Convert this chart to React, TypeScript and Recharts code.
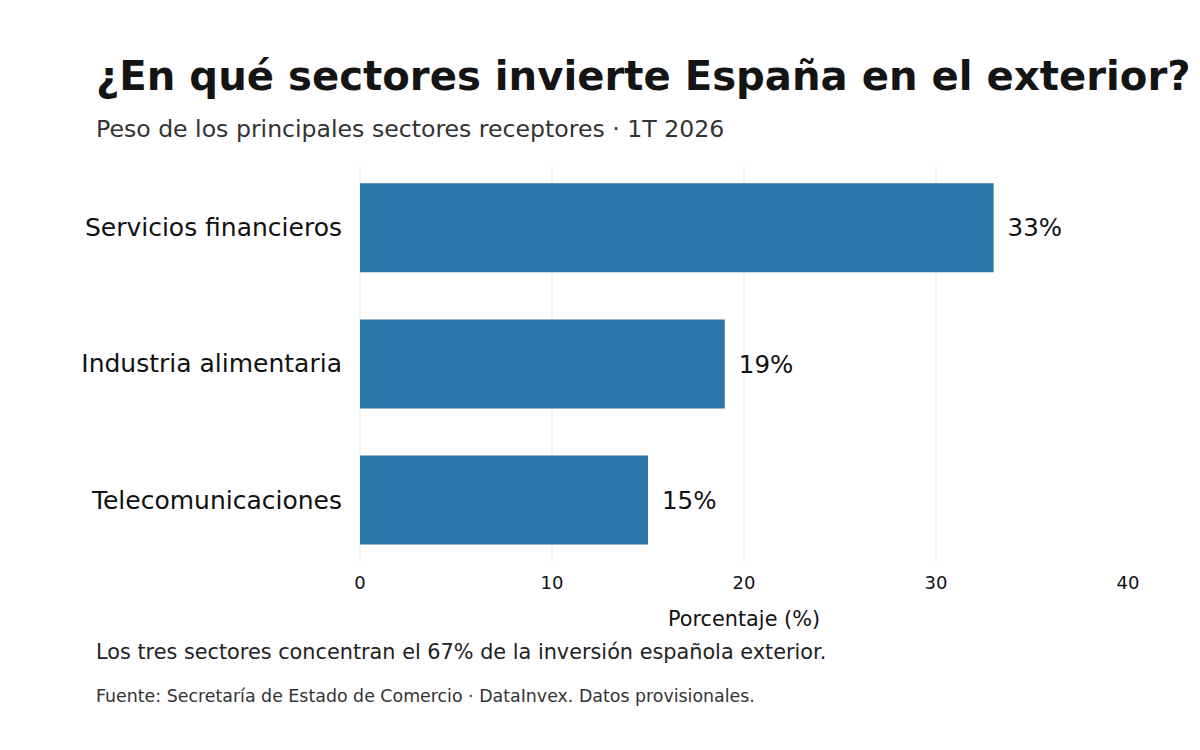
import { BarChart, Bar, XAxis, YAxis, CartesianGrid, LabelList } from 'recharts';

const sectors = ['Servicios financieros', 'Industria alimentaria', 'Telecomunicaciones'];
const shares = [33, 19, 15];
const xTicks = [0, 10, 20, 30, 40];
const gridValues = [0, 10, 20, 30];

const FONT = '"DejaVu Sans", Verdana, sans-serif';
const BAR_COLOR = '#2a75aa';
const X_MAX = 40;

const chartData = sectors.map((s, i) => ({ sector: s, pos: i, value: shares[i] }));

// grid only at 0..30, no line at the right edge
const gridX = (props: any) => {
  const scale = props?.xAxis?.scale;
  if (typeof scale === 'function') return gridValues.map((v) => scale(v));
  const o = props.offset;
  return gridValues.map((v) => o.left + (o.width * v) / X_MAX);
};

export default function App() {
  return (
    <div style={{ position: 'absolute', left: 0, top: 0, width: 1200, height: 750, background: '#fff', fontFamily: FONT }}>
      <BarChart
        width={1200}
        height={750}
        data={chartData}
        layout="vertical"
        margin={{ top: 165, right: 72, bottom: 158, left: 0 }}
      >
        <CartesianGrid horizontal={false} stroke="#ebebeb" strokeWidth={1} verticalCoordinatesGenerator={gridX} />
        <XAxis
          type="number"
          domain={[0, X_MAX]}
          ticks={xTicks}
          axisLine={false}
          tickLine={false}
          tickSize={0}
          tickMargin={14}
          height={30}
          tick={{ fontSize: 18, fill: '#111', fontFamily: FONT }}
        />
        <YAxis
          type="number"
          dataKey="pos"
          domain={[-0.4575, 2.4575]}
          ticks={[0, 1, 2]}
          width={360}
          axisLine={false}
          tickLine={false}
          tickSize={0}
          tickMargin={18}
          tickFormatter={(i: number) => sectors[i] ?? ''}
          tick={{ fontSize: 25, fill: '#111', fontFamily: FONT }}
        />
        <Bar dataKey="value" fill={BAR_COLOR} barSize={89} isAnimationActive={false}>
          <LabelList
            dataKey="value"
            position="right"
            offset={14}
            formatter={(v: any) => `${v}%`}
            style={{ fontSize: 24.5, fill: '#111', fontFamily: FONT }}
          />
        </Bar>
      </BarChart>
      <svg width={1200} height={750} style={{ position: 'absolute', left: 0, top: 0, pointerEvents: 'none' }}>
        <text x={96} y={90} fontSize={40.2} fontWeight="bold" fill="#141414" fontFamily={FONT}>
          ¿En qué sectores invierte España en el exterior?
        </text>
        <text x={96} y={137} fontSize={23.6} fill="#333" fontFamily={FONT}>
          Peso de los principales sectores receptores · 1T 2026
        </text>
        <text x={744} y={626} fontSize={20.8} fill="#111" textAnchor="middle" fontFamily={FONT}>
          Porcentaje (%)
        </text>
        <text x={96} y={659} fontSize={20.8} fill="#222" fontFamily={FONT}>
          Los tres sectores concentran el 67% de la inversión española exterior.
        </text>
        <text x={96} y={702} fontSize={17.4} fill="#333" fontFamily={FONT}>
          Fuente: Secretaría de Estado de Comercio · DataInvex. Datos provisionales.
        </text>
      </svg>
    </div>
  );
}
